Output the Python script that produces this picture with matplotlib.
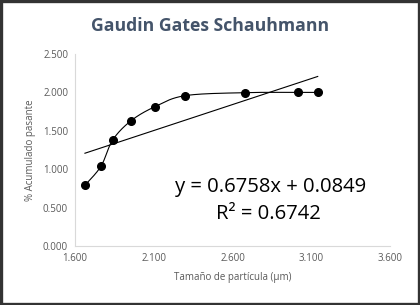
import numpy as np
import matplotlib
matplotlib.use("Agg")
import matplotlib.pyplot as plt
from matplotlib.patches import Rectangle

# log10 particle size vs log10 cumulative % passing
x_vals = [1.663, 1.765, 1.839, 1.956, 2.108, 2.300, 2.679, 3.018, 3.141]
y_vals = [0.792, 1.040, 1.380, 1.632, 1.815, 1.958, 1.997, 2.000, 2.000]

slope = 0.6758
intercept = 0.0849
r2 = 0.6742

x_ticks = [1.6, 2.1, 2.6, 3.1, 3.6]
y_ticks = [0.0, 0.5, 1.0, 1.5, 2.0, 2.5]

TICK_COL = "#595959"
TITLE_COL = "#44546A"
FONT = ["Open Sans", "DejaVu Sans"]


def smooth_curve(xs, ys, n=30):
    # Excel style smoothed line: cubic bezier segments with Catmull-Rom handles
    p = np.column_stack([xs, ys])
    out = []
    for i in range(len(p) - 1):
        p0 = p[i - 1] if i > 0 else p[i]
        p3 = p[i + 2] if i + 2 < len(p) else p[i + 1]
        c1 = p[i] + (p[i + 1] - p0) / 6.0
        c2 = p[i + 1] - (p3 - p[i]) / 6.0
        t = np.linspace(0, 1, n)[:, None]
        seg = ((1 - t) ** 3) * p[i] + 3 * ((1 - t) ** 2) * t * c1 \
            + 3 * (1 - t) * t ** 2 * c2 + t ** 3 * p[i + 1]
        out.append(seg if i == 0 else seg[1:])
    out = np.vstack(out)
    return out[:, 0], out[:, 1]


fig = plt.figure(figsize=(4.2, 3.05), dpi=100)
ax = fig.add_axes([0.1786, 0.193, 0.75, 0.63])

sx, sy = smooth_curve(x_vals, y_vals)
ax.plot(sx, sy, color="black", lw=0.8, zorder=2)
ax.plot(x_vals, y_vals, "o", color="black", ms=5.5, zorder=3)

tx = np.array([min(x_vals), max(x_vals)])
ax.plot(tx, slope * tx + intercept, color="black", lw=0.8, zorder=2)

ax.set_xlim(1.6, 3.6)
ax.set_ylim(0, 2.5)
ax.set_xticks(x_ticks)
ax.set_yticks(y_ticks)
ax.set_xticklabels([f"{v:.3f}" for v in x_ticks])
ax.set_yticklabels([f"{v:.3f}" for v in y_ticks])
ax.tick_params(length=0, labelsize=7, colors=TICK_COL, pad=5)
for lab in ax.get_xticklabels() + ax.get_yticklabels():
    lab.set_family(FONT)
for s in ["top", "right"]:
    ax.spines[s].set_visible(False)
for s in ["left", "bottom"]:
    ax.spines[s].set_color("#D9D9D9")
    ax.spines[s].set_linewidth(0.8)

ax.set_xlabel("Tamaño de partícula (µm)", fontsize=7, color=TICK_COL,
              family=FONT, labelpad=6)
ax.set_ylabel("% Acumulado pasante", fontsize=7, color=TICK_COL,
              family=FONT, labelpad=5)

fig.text(0.5, 0.915, "Gaudin Gates Schauhmann", ha="center", va="center",
         fontsize=12.7, fontweight="bold", color=TITLE_COL, family=FONT)

fig.text(0.645, 0.386, f"y = {slope:.4f}x + {intercept:.4f}", ha="center",
         va="center", fontsize=14.6, color="black", family=FONT)
fig.text(0.639, 0.297, f"R² = {r2:.4f}", ha="center", va="center",
         fontsize=14.6, color="black", family=FONT)

fig.patches.append(Rectangle((0.003, 0.004), 0.994, 0.992, transform=fig.transFigure,
                             fill=False, edgecolor="#333333", lw=2.4))

fig.savefig("out.png", dpi=100)
